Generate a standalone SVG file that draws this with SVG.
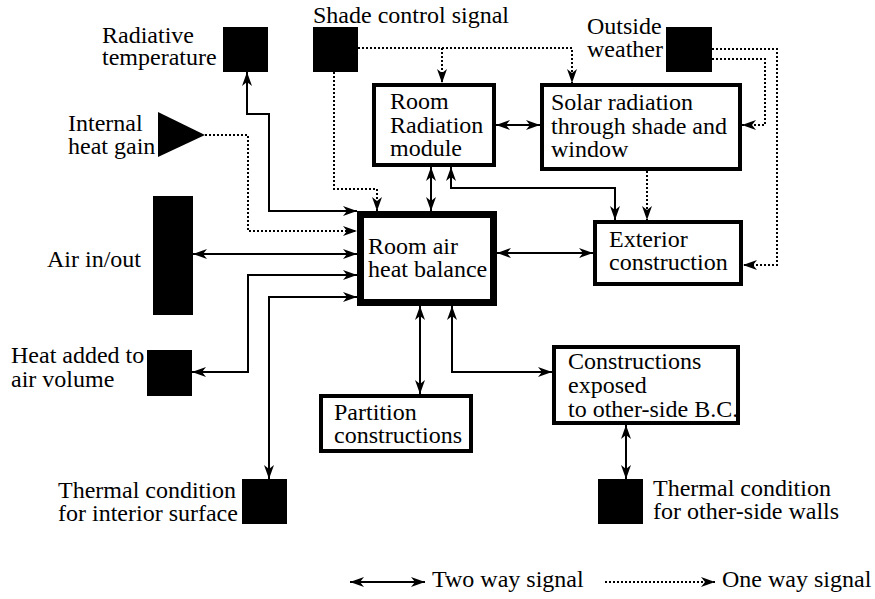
<svg xmlns="http://www.w3.org/2000/svg" width="875" height="599" viewBox="0 0 875 599">
<defs>
<marker id="ah" viewBox="0 0 14 10" refX="14" refY="5" markerWidth="14" markerHeight="10" markerUnits="userSpaceOnUse" orient="auto-start-reverse"><path d="M0,0 L14,5 L0,10 L4,5 Z" fill="#000"/></marker>
</defs>
<style>
.box{fill:#fff;stroke:#000;stroke-width:4}
.main{fill:#fff;stroke:#000;stroke-width:7}
.blk{fill:#000}
.two{fill:none;stroke:#000;stroke-width:2;marker-start:url(#ah);marker-end:url(#ah)}
.one{fill:none;stroke:#000;stroke-width:2;stroke-dasharray:2 2;marker-end:url(#ah)}
</style>
<rect width="875" height="599" fill="#fff"/>
<g id="connectors">
<path class="two" d="M247,72 V114 H269 V211 H357"/>
<path class="one" d="M205,135 H248 V231 H357"/>
<path class="two" d="M193,254 H357"/>
<path class="two" d="M357,275 H248 V372 H192"/>
<path class="two" d="M357,297 H269 V479"/>
<path class="one" d="M334,72 V189 H377 V211"/>
<path class="one" d="M358,48 H572 V83"/>
<path class="one" d="M442,48 V83"/>
<path class="two" d="M431,167 V211"/>
<path class="two" d="M496,125 H540"/>
<path class="two" d="M451,167 V188 H615 V220"/>
<path class="one" d="M647,171 V220"/>
<path class="one" d="M712,49 H777 V265 H743"/>
<path class="one" d="M712,59 H765 V125 H742"/>
<path class="two" d="M497,253 H593"/>
<path class="two" d="M420,306 V394"/>
<path class="two" d="M452,306 V372 H552"/>
<path class="two" d="M626,425 V479"/>
</g>
<g font-family="'Times New Roman', 'Liberation Serif', Times, serif" font-size="24" fill="#000">
<g id="radiative-temperature">
<rect class="blk" x="223" y="27" width="45" height="45"/>
<text x="102" y="43">Radiative</text>
<text x="102" y="65">temperature</text>
</g>
<g id="shade-control">
<rect class="blk" x="313" y="27" width="45" height="45"/>
<text x="313" y="23">Shade control signal</text>
</g>
<g id="outside-weather">
<rect class="blk" x="666" y="27" width="46" height="45"/>
<text x="587" y="34">Outside</text>
<text x="587" y="57">weather</text>
</g>
<g id="internal-heat-gain">
<polygon class="blk" points="158,112 205,135 158,157"/>
<text x="68" y="131">Internal</text>
<text x="68" y="154">heat gain</text>
</g>
<g id="air-in-out">
<rect class="blk" x="153" y="196" width="40" height="119"/>
<text x="47" y="267">Air in/out</text>
</g>
<g id="heat-added">
<rect class="blk" x="147" y="350" width="45" height="46"/>
<text x="11" y="363">Heat added to</text>
<text x="11" y="387">air volume</text>
</g>
<g id="thermal-interior">
<rect class="blk" x="242" y="479" width="45" height="45"/>
<text x="58" y="498">Thermal condition</text>
<text x="58" y="521">for interior surface</text>
</g>
<g id="room-radiation">
<rect class="box" x="374" y="85" width="120" height="80"/>
<text x="390" y="109">Room</text>
<text x="390" y="133">Radiation</text>
<text x="390" y="156">module</text>
</g>
<g id="solar-radiation">
<rect class="box" x="542" y="85" width="198" height="84"/>
<text x="551" y="110">Solar radiation</text>
<text x="551" y="134">through shade and</text>
<text x="551" y="157">window</text>
</g>
<g id="room-air-heat-balance">
<rect class="main" x="360.5" y="214.5" width="133" height="88"/>
<text x="368" y="254">Room air</text>
<text x="368" y="277">heat balance</text>
</g>
<g id="exterior-construction">
<rect class="box" x="595" y="222" width="146" height="62"/>
<text x="609" y="247">Exterior</text>
<text x="609" y="270">construction</text>
</g>
<g id="partition-constructions">
<rect class="box" x="321" y="396" width="150" height="55"/>
<text x="334" y="420">Partition</text>
<text x="334" y="443">constructions</text>
</g>
<g id="constructions-exposed">
<rect class="box" x="554" y="347" width="184" height="76"/>
<text x="568" y="369">Constructions</text>
<text x="568" y="393">exposed</text>
<text x="568" y="417">to other-side B.C.</text>
</g>
<g id="thermal-other-side">
<rect class="blk" x="598" y="479" width="45" height="45"/>
<text x="653" y="496">Thermal condition</text>
<text x="653" y="519">for other-side walls</text>
</g>
<g id="legend">
<path class="two" d="M350,582 H425"/>
<text x="432" y="587">Two way signal</text>
<path class="one" d="M605,582 H715"/>
<text x="722" y="587">One way signal</text>
</g>
</g>
</svg>
